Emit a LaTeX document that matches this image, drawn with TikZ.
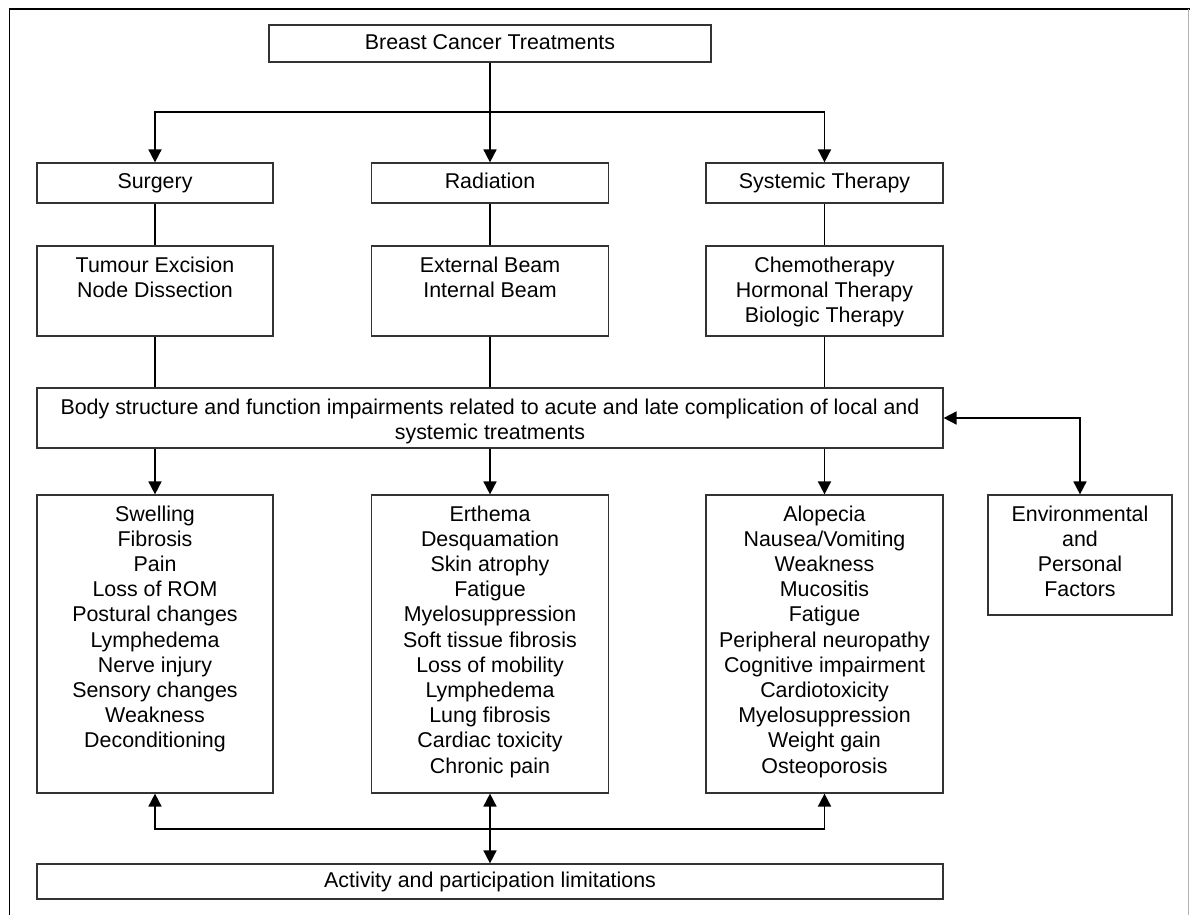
\documentclass[tikz,border=0pt]{standalone}
\usepackage{fontspec}
\setmainfont{Liberation Sans}
\usetikzlibrary{arrows.meta}
\newcommand{\toplines}[3]{\parbox[t][#2][t]{#1}{\centering\rule{0pt}{13pt}#3}}

\begin{document}
\begin{tikzpicture}[x=0.5pt,y=-0.5pt,
	font=\fontsize{10.7}{12.6}\selectfont,
	block/.style={draw=black!80,line width=0.6pt,inner sep=0pt,align=center},
	oneline/.style={block,text height=7.8pt,text depth=2.2pt},
	link/.style={line width=0.85pt},
	arrowed/.style={link,-{Triangle[width=6.5pt,length=6.5pt]}},
	twoway/.style={link,{Triangle[width=6.5pt,length=6.5pt]}-{Triangle[width=6.5pt,length=6.5pt]}}]
	\useasboundingbox (0,0) rectangle (1190,915);
	\draw [line width=0.85pt] (9.5,915) -- (9.5,9) -- (1190,9);
	\draw [black!30] (1188,9) -- (1188,915);

	\node [oneline,minimum width=221pt,minimum height=18.5pt] (bct) at (490,43.5) {Breast Cancer Treatments};

	\node [oneline,minimum width=118pt,minimum height=20pt] (srg) at (155,183) {Surgery};
	\node [oneline,minimum width=118.5pt,minimum height=20pt] (rad) at (490,183) {Radiation};
	\node [oneline,minimum width=118.5pt,minimum height=20pt] (sys) at (824.5,183) {Systemic Therapy};

	\node [block] (tum) at (155,291) {\toplines{118pt}{45pt}{Tumour Excision\\Node Dissection}};
	\node [block] (ext) at (490,291) {\toplines{118.5pt}{45pt}{External Beam\\Internal Beam}};
	\node [block] (che) at (824.5,291) {\toplines{118.5pt}{45pt}{Chemotherapy\\Hormonal Therapy\\Biologic Therapy}};

	\node [block] (body) at (490,418) {\toplines{453pt}{30pt}{Body structure and function impairments related to acute and late complication of local and\\systemic treatments}};

	\node [block] (swl) at (155,644) {\toplines{118pt}{149pt}{Swelling\\Fibrosis\\Pain\\Loss of ROM\\Postural changes\\Lymphedema\\Nerve injury\\Sensory changes\\Weakness\\Deconditioning}};
	\node [block] (ery) at (490,644) {\toplines{118.5pt}{149pt}{Erthema\\Desquamation\\Skin atrophy\\Fatigue\\Myelosuppression\\Soft tissue fibrosis\\Loss of mobility\\Lymphedema\\Lung fibrosis\\Cardiac toxicity\\Chronic pain}};
	\node [block] (alo) at (824.5,644) {\toplines{118.5pt}{149pt}{Alopecia\\Nausea/Vomiting\\Weakness\\Mucositis\\Fatigue\\Peripheral neuropathy\\Cognitive impairment\\Cardiotoxicity\\Myelosuppression\\Weight gain\\Osteoporosis}};
	\node [block] (env) at (1080,555) {\toplines{92pt}{60pt}{Environmental\\and\\Personal\\Factors}};

	\node [oneline,minimum width=453pt,minimum height=17.5pt] (act) at (490,881.5) {Activity and participation limitations};

	\coordinate (fork) at (490,112);
	\coordinate (meet) at (490,829);

	\draw [link] (bct.south) -- (fork);
	\draw [arrowed] (fork) -- (rad.north);
	\draw [arrowed] (fork) -| (srg.north);
	\draw [arrowed] (fork) -| (sys.north);

	\draw [link] (srg.south) -- (tum.north);
	\draw [link] (rad.south) -- (ext.north);
	\draw [link] (sys.south) -- (che.north);
	\draw [link] (tum.south) -- (tum.south |- body.north);
	\draw [link] (ext.south) -- (body.north);
	\draw [link] (che.south) -- (che.south |- body.north);

	\draw [arrowed] (body.south -| swl.north) -- (swl.north);
	\draw [arrowed] (body.south) -- (ery.north);
	\draw [arrowed] (body.south -| alo.north) -- (alo.north);
	\draw [twoway] (body.east) -| (env.north);

	\draw [arrowed] (meet) -| (swl.south);
	\draw [arrowed] (meet) -| (alo.south);
	\draw [twoway] (ery.south) -- (act.north);
\end{tikzpicture}
\end{document}
